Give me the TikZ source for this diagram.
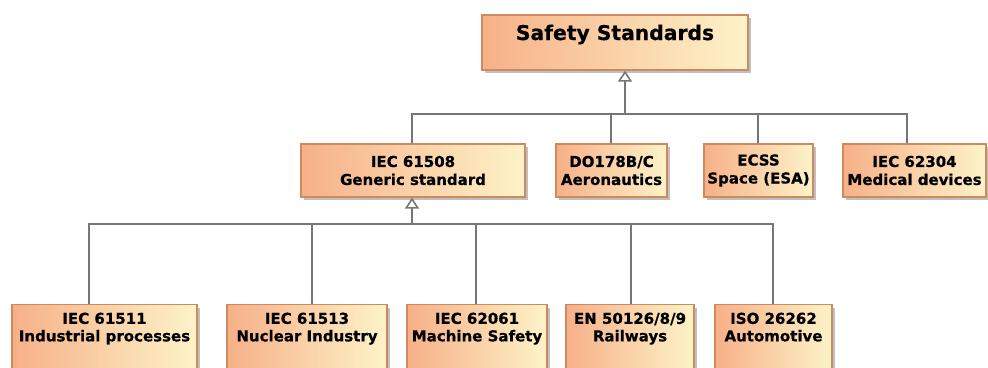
\documentclass[tikz,border=0pt]{standalone}
\usepackage{fontspec}
\setmainfont{DejaVu Sans}[BoldFeatures={FakeBold=0.6}]
\usetikzlibrary{arrows.meta,shadows}
\definecolor{boxleft}{HTML}{F7B088}
\definecolor{boxright}{HTML}{FDF3C8}
\definecolor{boxborder}{HTML}{CC8A60}
\definecolor{linegray}{HTML}{767676}
\tikzset{
  stdbox/.style={draw=boxborder, line width=1.3pt, left color=boxleft, right color=boxright,
    minimum height=53pt, inner sep=0pt, align=center,
    font=\fontsize{15}{18}\selectfont\bfseries,
    drop shadow={shadow xshift=3pt, shadow yshift=-3pt, fill=black!45, opacity=0.55}},
  lowbox/.style={stdbox, minimum height=100pt, anchor=north},
  lowtxt/.style={align=center, inner sep=0pt, anchor=north, font=\fontsize{15}{17.5}\selectfont\bfseries},
  conn/.style={draw=linegray, line width=1.8pt},
  gen/.style={conn, -{Triangle[open, length=11pt, width=14pt, line width=1.6pt]}}
}
\begin{document}
\begin{tikzpicture}[x=1pt, y=-1pt]
\useasboundingbox (0,0) rectangle (988,367);
\clip (0,0) rectangle (988,367);
% top
\node[stdbox, minimum width=266pt, minimum height=55pt] (top) at (615,42.5) {};
\node[inner sep=0pt, anchor=base, font=\fontsize{20.3}{25}\selectfont\bfseries] (toptxt) at (615,40) {Safety Standards};
% middle row
\node[stdbox, minimum width=224pt] (g) at (413,170.5) {IEC 61508\\Generic standard};
\node[stdbox, minimum width=111pt] (do) at (611.5,170.5) {DO178B/C\\Aeronautics};
\node[stdbox, minimum width=109pt] (ecss) at (758.5,170.5) {ECSS\\Space (ESA)};
\node[stdbox, minimum width=143pt] (med) at (914.5,170.5) {IEC 62304\\Medical devices};
% bottom row boxes
\node[lowbox, minimum width=185pt] (b1) at (104.5,304) {};
\node[lowbox, minimum width=160pt] (b2) at (307,304) {};
\node[lowbox, minimum width=140pt] (b3) at (477,304) {};
\node[lowbox, minimum width=128pt] (b4) at (630,304) {};
\node[lowbox, minimum width=117pt] (b5) at (773.5,304) {};
\node[lowtxt] (t1) at (104.5,312.5) {IEC 61511\\Industrial processes};
\node[lowtxt] (t2) at (307,312.5) {IEC 61513\\Nuclear Industry};
\node[lowtxt] (t3) at (477,312.5) {IEC 62061\\Machine Safety};
\node[lowtxt] (t4) at (630,312.5) {EN 50126/8/9\\Railways};
\node[lowtxt] (t5) at (773.5,312.5) {ISO 26262\\Automotive};
% junction coordinates
\coordinate (j1) at (625,114);
\coordinate (j2) at (412,224);
\coordinate (xdo) at (611,0);
\coordinate (xecss) at (758,0);
\coordinate (xmed) at (907,0);
\coordinate (x1) at (89,0);
\coordinate (x2) at (312,0);
\coordinate (x3) at (476,0);
\coordinate (x4) at (631,0);
\coordinate (x5) at (773,0);
% upper tree
\draw[conn] (g.north -| j2) |- (xmed |- j1) -- (xmed |- med.north);
\draw[conn] (xdo |- do.north) -- (xdo |- j1);
\draw[conn] (xecss |- ecss.north) -- (xecss |- j1);
\draw[gen] (j1) -- (top.south -| j1);
% lower tree
\draw[conn] (x1 |- b1.north) |- (j2);
\draw[conn] (j2) -| (x5 |- b5.north);
\draw[conn] (x2 |- b2.north) -- (x2 |- j2);
\draw[conn] (x3 |- b3.north) -- (x3 |- j2);
\draw[conn] (x4 |- b4.north) -- (x4 |- j2);
\draw[gen] (j2) -- (g.south -| j2);
\end{tikzpicture}
\end{document}
